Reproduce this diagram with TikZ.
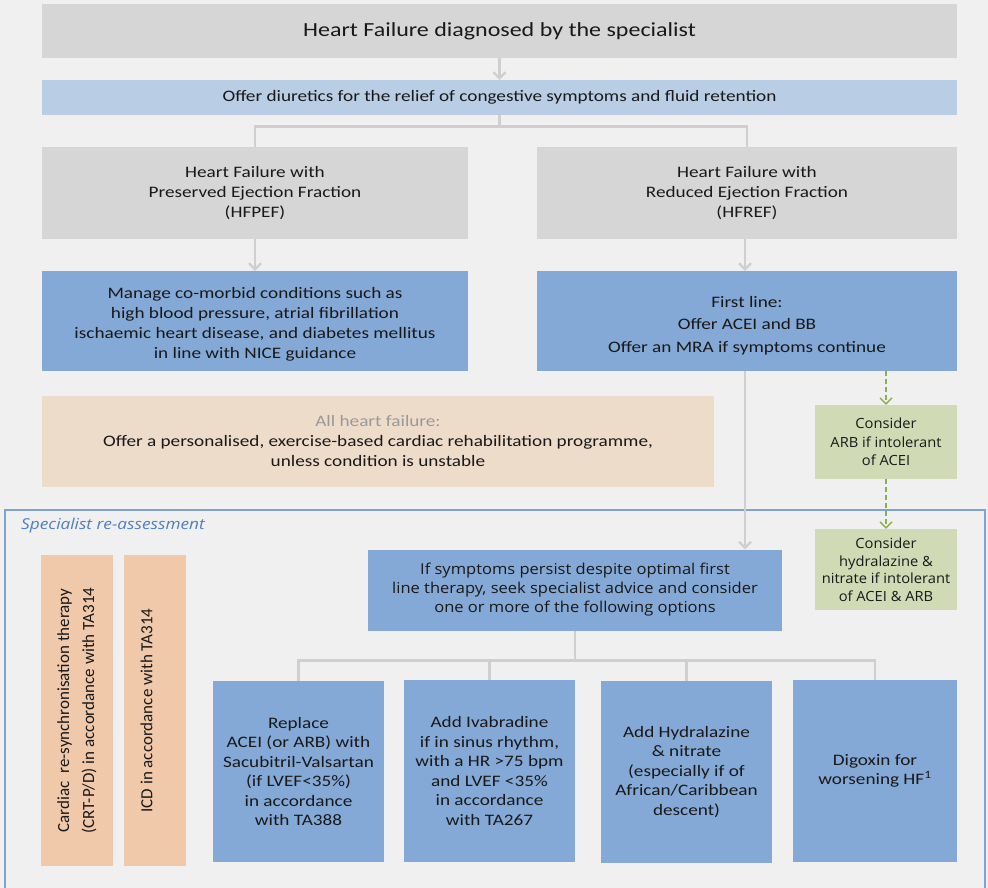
\documentclass[tikz,border=0pt]{standalone}
\usepackage{fontspec}
\setmainfont{Carlito}[FakeStretch=1.2]
\newfontfamily\carl{Carlito}
\newfontfamily\osans{Open Sans}[FakeStretch=1.1]
\newfontfamily\osanb{Open Sans}[FakeStretch=1.05]
\newfontfamily\osanl{Open Sans}[FakeStretch=1.15]
\usetikzlibrary{arrows.meta,calc}
\definecolor{bgc}{HTML}{F0F0F0}
\definecolor{greyc}{HTML}{D6D6D6}
\definecolor{lblue}{HTML}{B9CDE5}
\definecolor{mblue}{HTML}{84A9D6}
\definecolor{peach}{HTML}{EEDCCB}
\definecolor{orng}{HTML}{EFC9A9}
\definecolor{grn}{HTML}{D0DAB5}
\definecolor{grnline}{HTML}{8DB04E}
\definecolor{conn}{HTML}{CFCFCF}
\definecolor{frameblue}{HTML}{7FA2D2}
\definecolor{labblue}{HTML}{4F7FBF}
\tikzset{
  box/.style={rectangle, inner sep=2pt, align=center, text=black!90},
  cline/.style={draw=conn, line width=2.6pt},
  carrow/.style={cline, -{Straight Barb[length=6pt,width=12pt,line width=2.2pt]}},
  garrow/.style={draw=grnline, line width=1.4pt, dash pattern=on 5pt off 3pt, -{Straight Barb[length=6pt,width=12pt,line width=1.4pt]}},
  cf/.style={font={\fontsize{16}{20}\selectfont}},
  bf/.style={font={\fontsize{16}{19.5}\selectfont}},
  of/.style={font={\osans\fontsize{15}{19}\selectfont}},
  gf/.style={font={\osanb\fontsize{14}{18.5}\selectfont}},
  rf/.style={font={\carl\fontsize{17}{25}\selectfont}},
}
\begin{document}
\begin{tikzpicture}[x=1pt,y=-1pt]
\fill[bgc] (0,0) rectangle (988,888);
\useasboundingbox (0,0) rectangle (988,888);

% frame
\draw[frameblue, line width=1.8pt] (5,895) -- (5,510) -- (985,510) -- (985,895);
\node[anchor=west, text=labblue, font={\osanl\itshape\fontsize{15}{18}\selectfont}, inner sep=0pt] (spec) at (21,526) {Specialist re-assessment};

\node[box, fill=greyc, minimum width=915pt, minimum height=54pt, font={\fontsize{20}{24}\selectfont}] (title) at (499.5,31) {Heart Failure diagnosed by the specialist};
\node[box, fill=lblue, minimum width=915pt, minimum height=35pt, font={\fontsize{16}{20}\selectfont}] (diur) at (499.5,97.5) {Offer diuretics for the relief of congestive symptoms and fluid retention};

\node[box, cf, fill=greyc, minimum width=426pt, minimum height=92pt] (hfpef) at (255,193) {Heart Failure with\\Preserved Ejection Fraction\\(HFPEF)};
\node[box, cf, fill=greyc, minimum width=420pt, minimum height=92pt] (hfref) at (747,193) {Heart Failure with\\Reduced Ejection Fraction\\(HFREF)};

\node[box, fill=mblue, minimum width=426pt, minimum height=100pt] (manage) at (255,321) {};
\node[box, cf] (managet) at ([yshift=-3pt]manage.center) {Manage co-morbid conditions such as\\high blood pressure, atrial fibrillation\\ischaemic heart disease, and diabetes mellitus\\in line with NICE guidance};
\node[box, fill=mblue, minimum width=420pt, minimum height=100pt] (first) at (747,321) {};
\node[box, font={\fontsize{16}{22.5}\selectfont}] (firstt) at ([yshift=-4.5pt]first.center) {First line:\\Offer ACEI and BB\\Offer an MRA if symptoms continue};

\node[box, cf, fill=peach, minimum width=672pt, minimum height=91pt] (allhf) at (378,441.5) {\textcolor{black!40}{All heart failure:}\\Offer a personalised, exercise-based cardiac rehabilitation programme,\\unless condition is unstable};

\node[box, gf, fill=grn, minimum width=142pt, minimum height=74pt] (arb) at (886,442) {Consider\\ARB if intolerant\\of ACEI};
\node[box, font={\osanb\fontsize{14}{17.5}\selectfont}, fill=grn, minimum width=142pt, minimum height=81pt] (hydr) at (886,569.5) {Consider\\hydralazine \&\\nitrate if intolerant\\of ACEI \& ARB};

\node[box, rf, fill=orng, rotate=90, minimum width=311pt, minimum height=72pt] (crt) at (77,710.5) {Cardiac~~re-synchronisation therapy\\(CRT-P/D) in accordance with TA314};
\node[box, rf, fill=orng, rotate=90, minimum width=311pt, minimum height=62pt] (icd) at (155,710.5) {ICD in accordance with TA314\\[-8pt]\mbox{}};

\node[box, of, fill=mblue, minimum width=414pt, minimum height=81pt] (ifsym) at (575,590) {If symptoms persist despite optimal first\\line therapy, seek specialist advice and consider\\one or more of the following options};

\node[box, bf, fill=mblue, minimum width=171pt, minimum height=181pt] (b1) at (298.5,771.5) {Replace\\ACEI (or ARB) with\\Sacubitril-Valsartan\\(if LVEF<35\%)\\in accordance\\with TA388};
\node[box, bf, fill=mblue, minimum width=171pt, minimum height=182pt] (b2) at (489.5,771) {Add Ivabradine\\if in sinus rhythm,\\with a HR >75 bpm\\and LVEF <35\%\\in accordance\\with TA267};
\node[box, bf, fill=mblue, minimum width=171pt, minimum height=182pt] (b3) at (686.5,772) {Add Hydralazine\\\& nitrate\\(especially if of\\African/Caribbean\\descent)};
\node[box, bf, fill=mblue, minimum width=164pt, minimum height=182pt] (b4) at (875,771) {Digoxin for\\worsening HF\textsuperscript{1}};

% connectors
\coordinate (fs) at ($(first.south)+(-2,0)$);
\coordinate (hs) at ($(hfref.south)+(-2,0)$);
\draw[carrow] (title.south) -- (diur.north);
\draw[cline] (diur.south) -- ++(0,11.5) -| (hfpef.north);
\draw[cline] (diur.south) -- ++(0,11.5) -| (hfref.north);
\draw[carrow] (hfpef.south) -- (manage.north);
\draw[carrow] (hs) -- (first.north -| hs);
\draw[carrow] (fs) -- (ifsym.north -| fs);
\draw[garrow] (first.south -| arb.north) -- (arb.north);
\draw[garrow] (arb.south) -- (hydr.north);
\draw[cline] (ifsym.south) -- ++(0,30) -| (b1.north);
\draw[cline] (ifsym.south) -- ++(0,30) -| (b2.north);
\draw[cline] (ifsym.south) -- ++(0,30) -| (b3.north);
\draw[cline] (ifsym.south) -- ++(0,30) -| (b4.north);
\end{tikzpicture}
\end{document}
